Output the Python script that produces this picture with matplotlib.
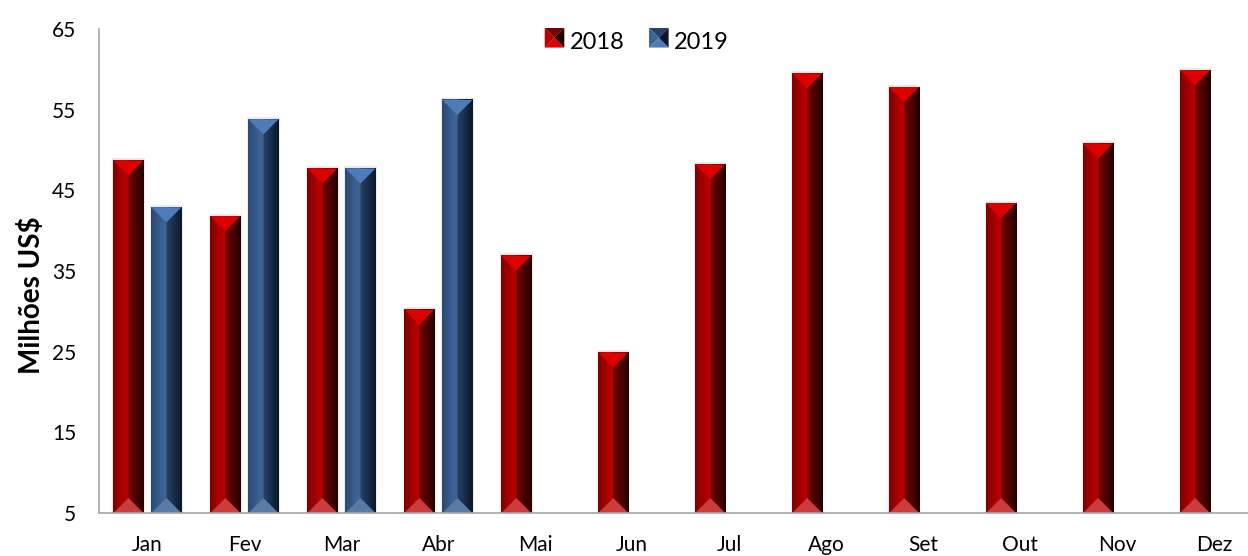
import numpy as np
import matplotlib
matplotlib.use("Agg")
import matplotlib.pyplot as plt
from matplotlib.patches import Polygon, Rectangle
from matplotlib.legend_handler import HandlerBase

months = ["Jan", "Fev", "Mar", "Abr", "Mai", "Jun", "Jul", "Ago", "Set", "Out", "Nov", "Dez"]
v2018 = [48.7, 41.8, 47.7, 30.2, 36.9, 24.9, 48.2, 59.5, 57.8, 43.4, 50.8, 59.9]
v2019 = [42.9, 53.8, 47.7, 56.2]
yticks = [5, 15, 25, 35, 45, 55, 65]

plt.rcParams["font.family"] = ["Lato", "DejaVu Sans"]

# colour sets: left face (edge -> inner), right face (inner -> edge), top, bottom
RED = {"l0": (0.50, 0.0, 0.0), "l1": (0.72, 0.0, 0.0),
       "r0": (0.46, 0.0, 0.0), "r1": (0.14, 0.0, 0.0),
       "top": "#dc0000", "bot": "#cc3c3c"}
BLUE = {"l0": (0.17, 0.29, 0.46), "l1": (0.24, 0.39, 0.59),
        "r0": (0.15, 0.26, 0.41), "r1": (0.05, 0.09, 0.16),
        "top": "#4d7cb8", "bot": "#5a7ba6"}

W, H, DPI = 1248, 556, 100
fig = plt.figure(figsize=(W / DPI, H / DPI), dpi=DPI)
ax_l, ax_b, ax_t = 99 / W, 43 / H, 527 / H
ax = fig.add_axes([ax_l, ax_b, 1 - ax_l, ax_t - ax_b])
XMIN, XMAX = -0.5, 11.35
YMIN, YMAX = 5, 65
ax.set_xlim(XMIN, XMAX)
ax.set_ylim(YMIN, YMAX)

px_x = (1 - ax_l) * W / (XMAX - XMIN)
px_y = (ax_t - ax_b) * H / (YMAX - YMIN)


def gradient(c):
    n = 60
    t = np.linspace(0, 1, n)
    arr = np.zeros((1, n, 3))
    for i, ti in enumerate(t):
        if ti < 0.5:
            s = min(ti / 0.4, 1.0)
            a, b = np.array(c["l0"]), np.array(c["l1"])
        else:
            s = (ti - 0.5) / 0.5
            a, b = np.array(c["r0"]), np.array(c["r1"])
        arr[0, i] = a + (b - a) * s
    return arr


def bevel(bars, c):
    grad = gradient(c)
    for r in bars:
        x0, w, h = r.get_x(), r.get_width(), r.get_height()
        x1, xc = x0 + w, x0 + w / 2
        bot, top = YMIN, YMIN + h
        d = (w / 2) * px_x / px_y
        ax.add_patch(Rectangle((x0 - 0.012, bot), w + 0.024, h + 0.3, color="0.85",
                               alpha=0.5, lw=0, zorder=1))
        ax.imshow(grad, extent=[x0, x1, bot, top], aspect="auto", zorder=3,
                  interpolation="bilinear")
        ax.add_patch(Polygon([(x0, top), (x1, top), (xc, top - d)],
                             color=c["top"], lw=0, zorder=4))
        ax.add_patch(Polygon([(x0, bot), (x1, bot), (xc, bot + d)],
                             color=c["bot"], lw=0, zorder=4))


x = np.arange(len(months))
off, bw = 0.196, 0.31
b18 = ax.bar(x - off, np.array(v2018) - YMIN, bw, bottom=YMIN, color="none", label="2018")
b19 = ax.bar(x[:len(v2019)] + off, np.array(v2019) - YMIN, bw, bottom=YMIN,
             color="none", label="2019")
bevel(b18, RED)
bevel(b19, BLUE)
ax.set_xlim(XMIN, XMAX)
ax.set_ylim(YMIN, YMAX)

ax.set_xticks(x, months)
ax.set_yticks(yticks)
ax.tick_params(axis="both", length=0, labelsize=15)
ax.tick_params(axis="x", pad=16)
ax.tick_params(axis="y", pad=16.5)
for s in ["top", "right"]:
    ax.spines[s].set_visible(False)
for s in ["left", "bottom"]:
    ax.spines[s].set_color("#a6a6a6")
    ax.spines[s].set_linewidth(1.2)
    ax.spines[s].set_zorder(5)

ax.set_ylabel("Milhões US$", fontsize=20, fontweight="bold")
ax.yaxis.set_label_coords(-0.047, 0.45)


class PyramidHandler(HandlerBase):
    def __init__(self, c):
        super().__init__()
        self.c = c

    def create_artists(self, legend, orig, xd, yd, width, height, fontsize, trans):
        s = height
        x0 = xd + (width - s) / 2
        y0 = yd
        xc, yc = x0 + s / 2, y0 + s / 2
        c = self.c
        tris = [
            ([(x0, y0 + s), (x0 + s, y0 + s), (xc, yc)], c["r0"]),
            ([(x0, y0), (x0 + s, y0), (xc, yc)], c["top"]),
            ([(x0, y0), (x0, y0 + s), (xc, yc)], c["l1"]),
            ([(x0 + s, y0), (x0 + s, y0 + s), (xc, yc)], c["r1"]),
        ]
        return [Polygon(p, color=col, lw=0, transform=trans) for p, col in tris]


leg = fig.legend([b18, b19], ["2018", "2019"], loc="center", bbox_to_anchor=(0.51, 0.924),
                 ncol=2, frameon=False, fontsize=17, handlelength=0.9, handleheight=0.9,
                 handletextpad=0.2, columnspacing=1.0,
                 handler_map={b18: PyramidHandler(RED), b19: PyramidHandler(BLUE)})

fig.savefig("out.png", dpi=DPI)
